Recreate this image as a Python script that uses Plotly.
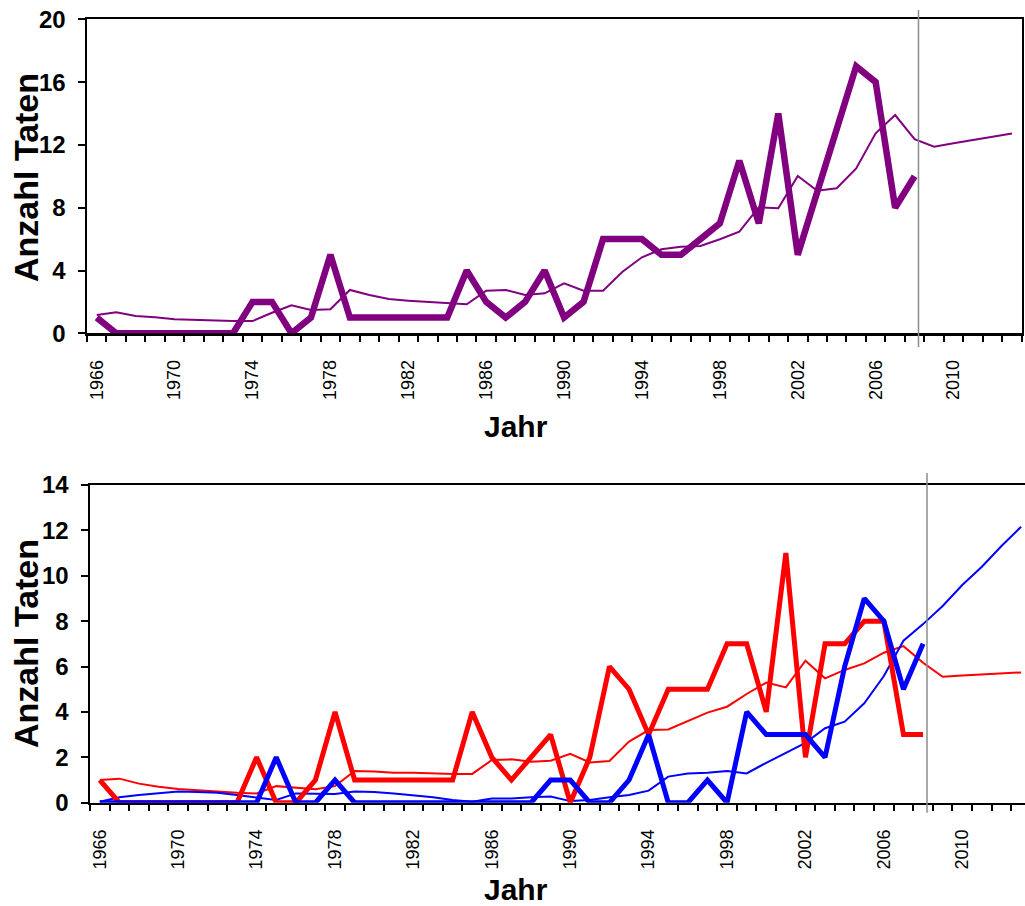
import plotly.graph_objects as go

# ---------------- data ----------------
years_all = list(range(1966, 2014))          # 1966..2013 (trend lines)
years_obs = list(range(1966, 2009))          # 1966..2008 (observed counts)

# top panel: all incidents
top_counts = [1, 0, 0, 0, 0, 0, 0, 0, 2, 2, 0, 1, 5, 1, 1, 1, 1, 1, 1, 4, 2, 1, 2, 4, 1,
              2, 6, 6, 6, 5, 5, 6, 7, 11, 7, 14, 5, 9, 13, 17, 16, 8, 10]
top_trend = [1.17, 1.34, 1.10, 1.02, 0.89, 0.85, 0.80, 0.78, 0.78, 1.31, 1.78, 1.48, 1.53,
             2.76, 2.44, 2.18, 2.08, 2.00, 1.90, 1.85, 2.71, 2.76, 2.44, 2.55, 3.18, 2.71,
             2.71, 3.92, 4.84, 5.35, 5.52, 5.56, 5.99, 6.47, 8.03, 7.96, 10.02, 9.08, 9.24,
             10.50, 12.74, 13.90, 12.36, 11.89, 12.10, 12.32, 12.52, 12.72]

# bottom panel: red and blue series
red_counts = [1, 0, 0, 0, 0, 0, 0, 0, 2, 0, 0, 1, 4, 1, 1, 1, 1, 1, 1, 4, 2, 1, 2, 3, 0,
              2, 6, 5, 3, 5, 5, 5, 7, 7, 4, 11, 2, 7, 7, 8, 8, 3, 3]
blue_counts = [0, 0, 0, 0, 0, 0, 0, 0, 0, 2, 0, 0, 1, 0, 0, 0, 0, 0, 0, 0, 0, 0, 0, 1, 1,
               0, 0, 1, 3, 0, 0, 1, 0, 4, 3, 3, 3, 2, 6, 9, 8, 5, 7]
red_trend = [1.00, 1.06, 0.84, 0.70, 0.60, 0.56, 0.49, 0.44, 0.41, 0.73, 0.67, 0.59, 0.73,
             1.40, 1.37, 1.32, 1.32, 1.29, 1.27, 1.27, 1.88, 1.91, 1.81, 1.85, 2.15, 1.77,
             1.84, 2.69, 3.20, 3.23, 3.61, 3.97, 4.23, 4.79, 5.29, 5.08, 6.26, 5.48, 5.85,
             6.14, 6.61, 6.90, 6.17, 5.55, 5.60, 5.64, 5.70, 5.74]
blue_trend = [0.04, 0.24, 0.34, 0.41, 0.49, 0.47, 0.44, 0.34, 0.24, 0.12, 0.41, 0.41, 0.38,
              0.49, 0.47, 0.41, 0.34, 0.24, 0.12, 0.04, 0.19, 0.19, 0.24, 0.27, 0.07, 0.12,
              0.24, 0.34, 0.53, 1.15, 1.29, 1.32, 1.40, 1.29, 1.76, 2.20, 2.64, 3.28, 3.57,
              4.38, 5.58, 7.14, 7.87, 8.67, 9.59, 10.40, 11.31, 12.16]

label_years = list(range(1966, 2014, 4))
boundaries = [y - 0.5 for y in range(1966, 2015)]
top_yticks = [0, 4, 8, 12, 16, 20]
bottom_yticks = [0, 2, 4, 6, 8, 10, 12, 14]
cutoff_year = 2008.2

PURPLE = "#800080"
RED = "#FF0000"
BLUE = "#0000FF"
FONT = "Arial, Liberation Sans, sans-serif"

fig = go.Figure()

# top panel
fig.add_trace(go.Scatter(x=years_all, y=top_trend, mode="lines",
                         line=dict(color=PURPLE, width=2), xaxis="x", yaxis="y"))
fig.add_trace(go.Scatter(x=years_obs, y=top_counts, mode="lines",
                         line=dict(color=PURPLE, width=6.5), xaxis="x", yaxis="y"))
# bottom panel
fig.add_trace(go.Scatter(x=years_all, y=red_trend, mode="lines",
                         line=dict(color=RED, width=2), xaxis="x2", yaxis="y2"))
fig.add_trace(go.Scatter(x=years_all, y=blue_trend, mode="lines",
                         line=dict(color=BLUE, width=2), xaxis="x2", yaxis="y2"))
fig.add_trace(go.Scatter(x=years_obs, y=red_counts, mode="lines",
                         line=dict(color=RED, width=5), xaxis="x2", yaxis="y2"))
fig.add_trace(go.Scatter(x=years_obs, y=blue_counts, mode="lines",
                         line=dict(color=BLUE, width=5), xaxis="x2", yaxis="y2"))

W, H = 1025, 906


def px_x(p):
    return p / W


def px_y(p):
    return (H - p) / H


def xaxis_common(rng, domain):
    return dict(
        domain=domain, range=rng, showgrid=False, zeroline=False, automargin=False,
        showline=True, linecolor="black", linewidth=2.5, mirror=True,
        tickmode="array", tickvals=label_years, ticktext=[str(v) for v in label_years],
        ticks="", tickangle=-90, ticklabelstandoff=17, ticklabeloverflow="allow",
        tickfont=dict(family=FONT, size=18, color="black"),
        minor=dict(tickmode="array", tickvals=boundaries, ticks="outside",
                   ticklen=6, tickwidth=2, tickcolor="black", showgrid=False),
        layer="below traces", fixedrange=True,
    )


def yaxis_common(rng, domain, tickvals):
    return dict(
        domain=domain, range=rng, showgrid=False, zeroline=False, automargin=False,
        showline=True, linecolor="black", linewidth=2.5, mirror=True,
        tickmode="array", tickvals=tickvals,
        ticks="outside", ticklen=7, tickwidth=2, tickcolor="black",
        ticklabelstandoff=7, ticklabeloverflow="allow",
        tickfont=dict(family=FONT, size=24, color="black", weight="bold"),
        layer="below traces", fixedrange=True,
    )


top_xdom = [px_x(87), px_x(1021.7)]
top_ydom = [px_y(333.3), px_y(19.3)]
bot_xdom = [px_x(90), 1.0]
bot_ydom = [px_y(802.7), px_y(485)]

fig.update_layout(
    width=W, height=H, margin=dict(l=0, r=0, t=0, b=0, autoexpand=False),
    paper_bgcolor="white", plot_bgcolor="white", showlegend=False,
    xaxis=dict(**xaxis_common([1965.5, 2013.5], top_xdom), anchor="y"),
    yaxis=dict(**yaxis_common([0, 20], top_ydom, top_yticks), anchor="x"),
    xaxis2=dict(**xaxis_common([1965.5, 2013.2], bot_xdom), anchor="y2"),
    yaxis2=dict(**yaxis_common([0, 14], bot_ydom, bottom_yticks), anchor="x2"),
)
fig.layout.yaxis2.mirror = False

# vertical cut-off lines
fig.add_shape(type="line", xref="x", yref="y domain", x0=cutoff_year, x1=cutoff_year,
              y0=-0.044, y1=1.03, line=dict(color="#8c8c8c", width=1.5))
fig.add_shape(type="line", xref="x2", yref="y2 domain", x0=cutoff_year, x1=cutoff_year,
              y0=-0.032, y1=1.038, line=dict(color="#8c8c8c", width=1.5))

# axis titles
title_font_y = dict(family=FONT, size=34, color="black", weight="bold")
title_font_x = dict(family=FONT, size=30, color="black", weight="bold")
for yc in [178, 644]:
    fig.add_annotation(text="Anzahl Taten", xref="paper", yref="paper", x=px_x(26),
                       y=px_y(yc), textangle=-90, showarrow=False, font=title_font_y,
                       xanchor="center", yanchor="middle")
for yc in [427, 889]:
    fig.add_annotation(text="Jahr", xref="paper", yref="paper", x=px_x(516), y=px_y(yc),
                       showarrow=False, font=title_font_x, xanchor="center",
                       yanchor="middle")

fig.write_html(
    "out.html",
    config={"displayModeBar": False, "staticPlot": True},
    post_script="document.body.style.margin='0px';document.body.style.overflow='hidden';",
)
